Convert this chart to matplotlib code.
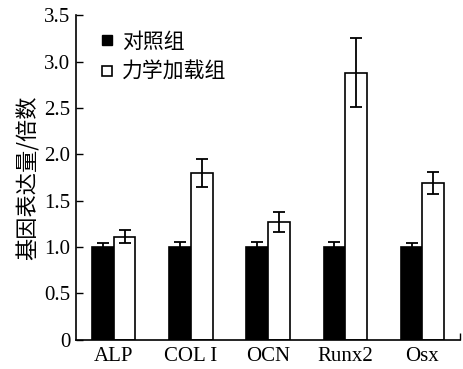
import numpy as np
import matplotlib
matplotlib.use("Agg")
import matplotlib.pyplot as plt
from matplotlib.lines import Line2D

# values
genes = ['ALP', 'COL I', 'OCN', 'Runx2', 'Osx']
control = [1.0, 1.0, 1.0, 1.0, 1.0]
control_err = [0.04, 0.05, 0.05, 0.05, 0.04]
loaded = [1.11, 1.80, 1.27, 2.88, 1.69]
loaded_err = [0.07, 0.15, 0.11, 0.37, 0.12]
yticks = [0, 0.5, 1.0, 1.5, 2.0, 2.5, 3.0, 3.5]

cjk = ['Noto Sans CJK SC', 'DejaVu Sans']
serif = 'Liberation Serif'

fig = plt.figure(figsize=(4.63, 3.69), dpi=100)
ax = fig.add_axes([0.164, 0.079, 0.83, 0.88])

x = np.arange(len(genes))
w = 0.28
err_kw = dict(ecolor='black', elinewidth=1.3, capsize=4, capthick=1.3)
ax.bar(x - w / 2, control, w, yerr=control_err, color='black',
       edgecolor='black', linewidth=1.2, error_kw=err_kw)
ax.bar(x + w / 2, loaded, w, yerr=loaded_err, color='white',
       edgecolor='black', linewidth=1.2, error_kw=err_kw)

ax.set_xlim(-0.49, 4.49)
ax.set_ylim(0, 3.5)
ax.set_yticks(yticks)
ax.set_yticklabels(['%g' % v if v == 0 else '%.1f' % v for v in yticks],
                   fontfamily=serif, fontsize=15)
ax.set_xticks(x)
ax.set_xticklabels(genes, fontfamily=serif, fontsize=15)
ax.set_xticks([4.49], minor=True)
ax.tick_params(axis='x', which='major', length=0, pad=5)
ax.tick_params(axis='x', which='minor', direction='in', length=5, width=1)
ax.tick_params(axis='y', direction='in', length=5, width=1, pad=4)

for s in ['top', 'right']:
    ax.spines[s].set_visible(False)
for s in ['left', 'bottom']:
    ax.spines[s].set_linewidth(1.2)

ax.set_ylabel('基因表达量/倍数', family=cjk, fontsize=16, labelpad=3)

handles = [
    Line2D([], [], marker='s', linestyle='none', markersize=7.5,
           markerfacecolor='black', markeredgecolor='black'),
    Line2D([], [], marker='s', linestyle='none', markersize=7.5,
           markerfacecolor='white', markeredgecolor='black', markeredgewidth=1.2),
]
leg = ax.legend(handles, ['对照组', '力学加载组'], loc='upper left',
                bbox_to_anchor=(0.005, 1.01), frameon=False,
                prop={'family': cjk, 'size': 15},
                handletextpad=0.2, handlelength=1.0, labelspacing=0.4)

fig.savefig('out.png', dpi=100)
